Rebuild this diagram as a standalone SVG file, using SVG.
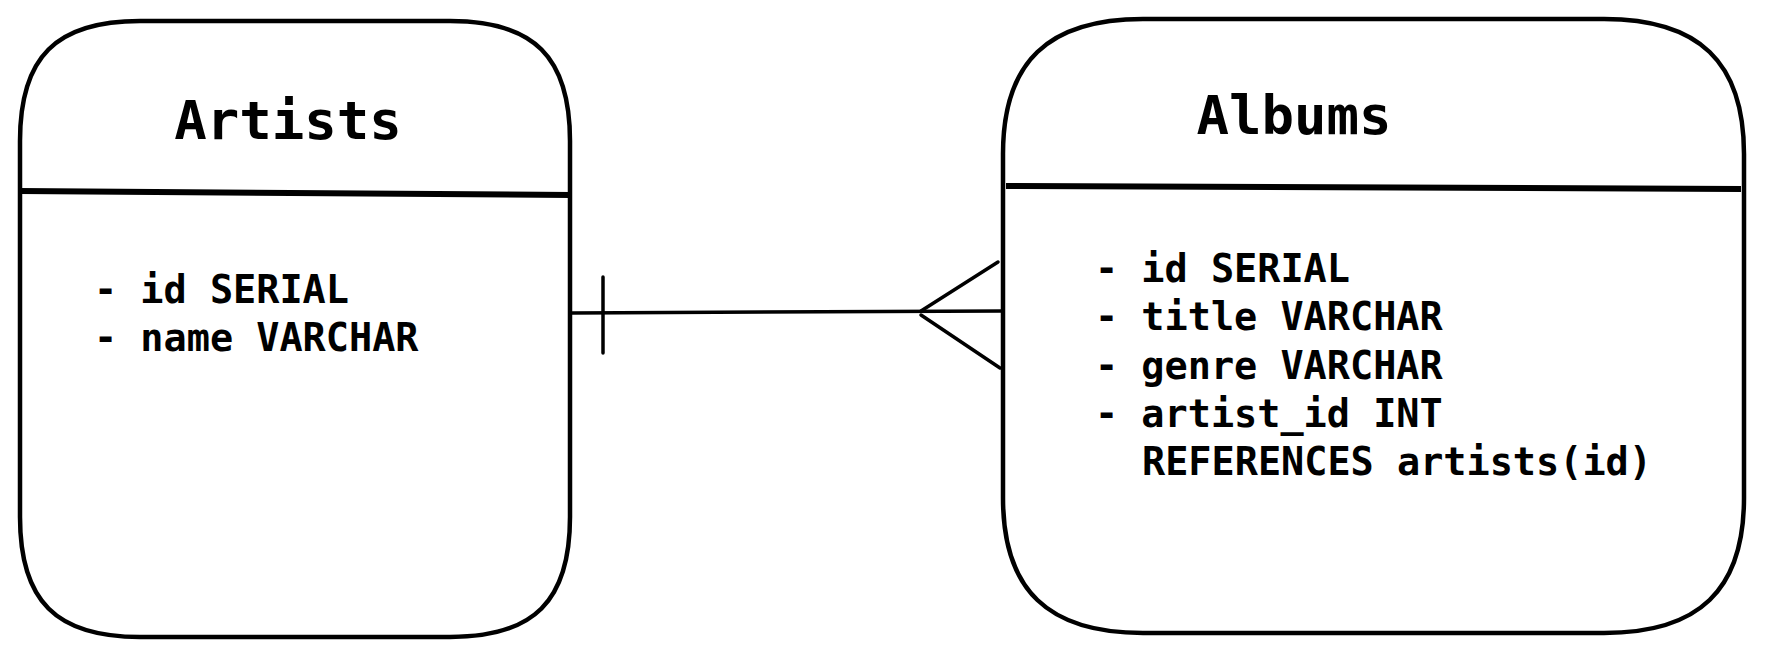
<svg xmlns="http://www.w3.org/2000/svg" width="1765" height="655" viewBox="0 0 1765 655">
<style>
.box{fill:#fff;stroke:#000;stroke-width:4.5;stroke-linejoin:round}
.div{stroke:#000;stroke-width:6;fill:none}
.title{font-family:"DejaVu Sans Mono","Liberation Mono",monospace;font-weight:bold;font-size:54px;fill:#000;text-anchor:middle}
.body{font-family:"DejaVu Sans Mono","Liberation Mono",monospace;font-weight:bold;font-size:38.5px;fill:#000}
.conn{stroke:#000;stroke-width:3.5;fill:none;stroke-linecap:round;stroke-linejoin:round}
</style>
<rect width="1765" height="655" fill="#fff"/>
<g id="artists">
<path class="box" d="M20,141 C20,57 56,21 140,21 L450,21 C534,21 570,57 570,141 L570,517 C570,601 534,637 450,637 L140,637 C56,637 20,601 20,517 Z"/>
<line class="div" x1="20" y1="191" x2="571" y2="195"/>
<text class="title" x="288" y="139">Artists</text>
<text class="body" x="94" y="303">- id SERIAL</text>
<text class="body" x="94" y="351">- name VARCHAR</text>
</g>
<g id="albums">
<path class="box" d="M1003,154 C1003,62 1048,19 1143,19 L1604,19 C1699,19 1744,62 1744,154 L1744,498 C1744,590 1699,633 1604,633 L1143,633 C1048,633 1003,590 1003,498 Z"/>
<line class="div" x1="1006" y1="186" x2="1741" y2="189"/>
<text class="title" x="1294" y="134">Albums</text>
<text class="body" x="1095" y="282">- id SERIAL</text>
<text class="body" x="1095" y="330">- title VARCHAR</text>
<text class="body" x="1095" y="379">- genre VARCHAR</text>
<text class="body" x="1095" y="427">- artist_id INT</text>
<text class="body" x="1142" y="475">REFERENCES artists(id)</text>
</g>
<g id="connectors">
<path class="conn" d="M572 313 L1003 311"/>
<path class="conn" d="M603 277 L603 353"/>
<path class="conn" d="M998 262 L921 311 M921 315 L1000 368"/>
</g>
</svg>
